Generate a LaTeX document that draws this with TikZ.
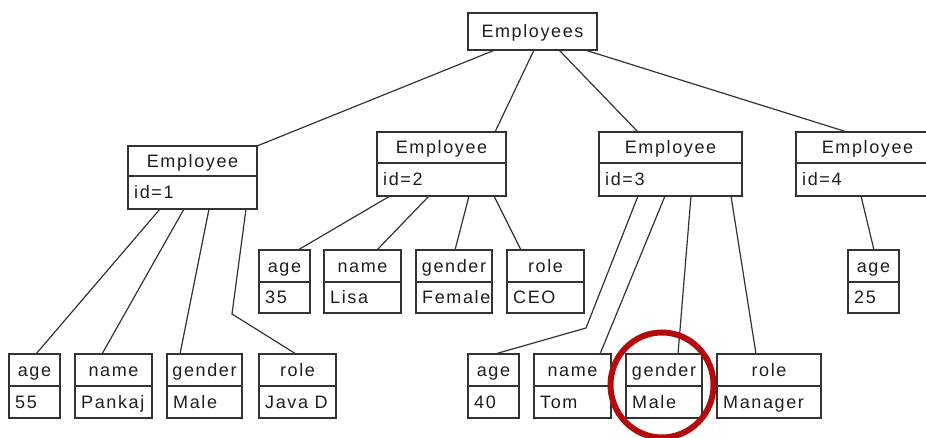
\documentclass[tikz,border=0pt]{standalone}
\usepackage{fontspec}
\newfontfamily\lblfont{Liberation Sans}[LetterSpace=9]
\definecolor{linec}{HTML}{333333}
\definecolor{textc}{HTML}{1E1E1E}
\definecolor{markred}{HTML}{B20C0C}
\tikzset{
  boxshape/.style={rectangle, draw=linec, line width=1.3pt, inner sep=0pt, outer sep=0pt},
  rule/.style={draw=linec, line width=1.3pt},
  lbl/.style={font=\lblfont\fontsize{18}{18}\selectfont, text=textc, inner sep=0pt,
              text height=12.9pt, text depth=0pt},
  link/.style={draw=linec, line width=1.2pt},
}
% #1 name, #2 left, #3 top, #4 right, #5 divider, #6 bottom, #7 header, #8 body
\newcommand\recbox[8]{%
  \node[boxshape, minimum width={(#4-#2)*1pt}, minimum height={(#6-#3)*1pt}]
    (#1) at ({(#2+#4)/2},{(#3+#6)/2}) {};
  \draw[rule] (#2,#5) -- (#4,#5);
  \node[lbl] (#1-head) at ({(#2+#4)/2},{(#3+#5)/2}) {#7};
  \node[lbl, anchor=west] (#1-body) at ({#2+6},{(#5+#6)/2}) {#8};
}
\begin{document}
\begin{tikzpicture}[x=1pt, y=-1pt]
  \useasboundingbox (0,0) rectangle (926,438);
  \clip (0,0) rectangle (926,438);

  % root
  \node[boxshape, minimum width=129pt, minimum height=37pt] (emps) at (532.5,31.5) {};
  \node[lbl] (emps-head) at (532.5,31.5) {Employees};

  % employee records
  \recbox{e1}{128}{146}{257}{176}{209}{Employee}{id=1}
  \recbox{e2}{377}{132}{506}{163}{196}{Employee}{id=2}
  \recbox{e3}{599}{132}{742}{163}{196}{Employee}{id=3}
  \recbox{e4}{796}{132}{939}{163}{196}{Employee}{id=4}

  % fields of employee 2 and 4
  \recbox{a2}{259}{250}{310}{282}{313}{age}{35}
  \recbox{n2}{324}{250}{401}{282}{313}{name}{Lisa}
  \recbox{g2}{416}{250}{492}{282}{313}{gender}{Female}
  \recbox{r2}{507}{250}{584}{282}{313}{role}{CEO}
  \recbox{a4}{848}{250}{899}{282}{313}{age}{25}

  % fields of employee 1 and 3
  \recbox{a1}{9}{354}{60}{386}{418}{age}{55}
  \recbox{n1}{75}{354}{152}{386}{418}{name}{Pankaj}
  \recbox{g1}{167}{354}{242}{386}{418}{gender}{Male}
  \recbox{r1}{259}{354}{336}{386}{418}{role}{Java D}
  \recbox{a3}{468}{354}{519}{386}{418}{age}{40}
  \recbox{n3}{534}{354}{611}{386}{418}{name}{Tom}
  \recbox{g3}{626}{354}{702}{386}{418}{gender}{Male}
  \recbox{r3}{717}{354}{821}{386}{418}{role}{Manager}

  % root to records
  \draw[link] ([xshift=-37.5pt]emps.south) -- (e1.north east);
  \draw[link] ([xshift=1.5pt]emps.south) -- ([xshift=53.5pt]e2.north);
  \draw[link] ([xshift=26.5pt]emps.south) -- ([xshift=-32.5pt]e3.north);
  \draw[link] ([xshift=52.5pt]emps.south) -- ([xshift=-20.5pt]e4.north);

  % employee 1
  \coordinate (bend1) at (232,314);
  \draw[link] ([xshift=-32.5pt]e1.south) -- ([xshift=1.5pt]a1.north);
  \draw[link] ([xshift=-8.5pt]e1.south) -- ([xshift=-11.5pt]n1.north);
  \draw[link] ([xshift=16.5pt]e1.south) -- ([xshift=-24.5pt]g1.north);
  \draw[link] ([xshift=53.5pt]e1.south) -- (bend1) -- ([xshift=-1.5pt]r1.north);

  % employee 2
  \draw[link] ([xshift=-51.5pt]e2.south) -- ([xshift=13.5pt]a2.north);
  \draw[link] ([xshift=-12.5pt]e2.south) -- ([xshift=14.5pt]n2.north);
  \draw[link] ([xshift=27.5pt]e2.south) -- ([xshift=1pt]g2.north);
  \draw[link] ([xshift=52.5pt]e2.south) -- ([xshift=-24.5pt]r2.north);

  % employee 3
  \coordinate (bend3) at (586,328);
  \draw[link] ([xshift=-32.5pt]e3.south) -- (bend3) -- ([xshift=1.5pt]a3.north);
  \draw[link] ([xshift=-5.5pt]e3.south) -- ([xshift=27.5pt]n3.north);
  \draw[link] ([xshift=20.5pt]e3.south) -- ([xshift=14pt]g3.north);
  \draw[link] ([xshift=60.5pt]e3.south) -- ([xshift=-13pt]r3.north);

  % employee 4
  \draw[link] ([xshift=-6.5pt]e4.south) -- ([xshift=0.5pt]a4.north);

  % highlight ring
  \draw[markred, line width=6pt] (662,385) ellipse [x radius=51.5, y radius=52.5];
\end{tikzpicture}
\end{document}
